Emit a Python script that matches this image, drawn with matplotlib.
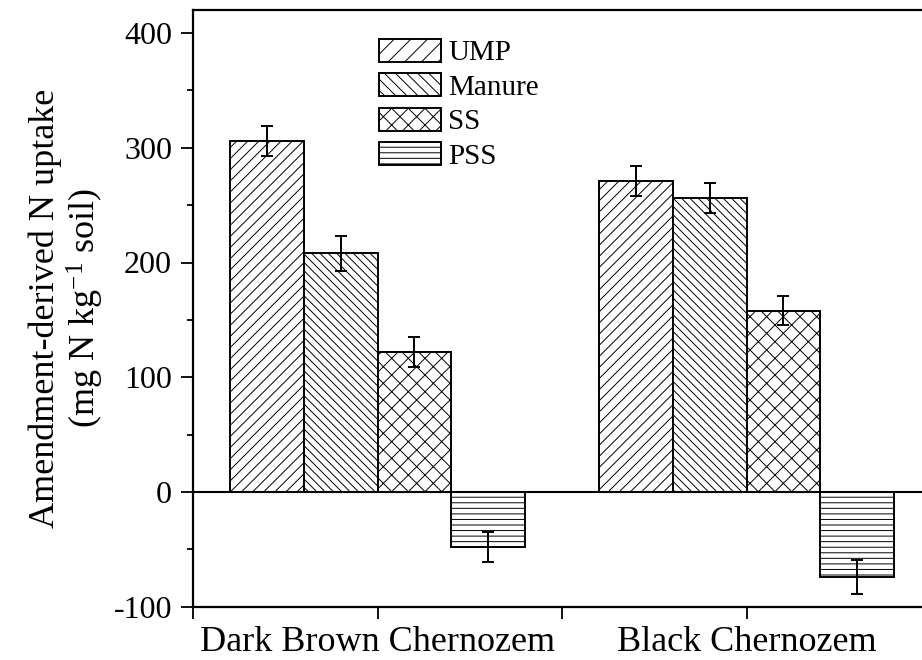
import matplotlib
matplotlib.use("Agg")
import matplotlib.pyplot as plt
from matplotlib.patches import Patch
from matplotlib.ticker import MultipleLocator
import numpy as np

plt.rcParams['font.family'] = ['Liberation Serif', 'DejaVu Serif']
plt.rcParams['mathtext.fontset'] = 'custom'
plt.rcParams['mathtext.rm'] = 'Liberation Serif'
plt.rcParams['mathtext.it'] = 'Liberation Serif:italic'
plt.rcParams['axes.unicode_minus'] = False
plt.rcParams['hatch.linewidth'] = 0.7
plt.rcParams['hatch.color'] = 'black'

soils = ['Dark Brown Chernozem', 'Black Chernozem']
treatments = ['UMP', 'Manure', 'SS', 'PSS']
values = {
    'UMP':    [306, 271],
    'Manure': [208, 256],
    'SS':     [122, 158],
    'PSS':    [-48, -74],
}
errors = {
    'UMP':    [13, 13],
    'Manure': [15, 13],
    'SS':     [13, 12.5],
    'PSS':    [13, 14.5],
}
bar_hatches = ['///', '\\\\\\\\', 'xx', '---']
legend_hatches = ['//', '\\\\\\', 'xx', '---']

fig = plt.figure(figsize=(9.22, 6.6), dpi=100)
ax = fig.add_axes([193/922, (660-606.75)/660, 738/922, (606.75-10.05)/660])

x = np.arange(1, len(soils) + 1)
width = 0.2
offsets = np.array([-1.5, -0.5, 0.5, 1.5]) * width
for t, off, h in zip(treatments, offsets, bar_hatches):
    ax.bar(x + off, values[t], width, yerr=errors[t], color='white',
           edgecolor='black', linewidth=1.4, hatch=h,
           error_kw=dict(ecolor='black', elinewidth=1.4, capsize=4.5, capthick=1.4))

ax.axhline(0, color='black', lw=1.5, zorder=3)

ax.set_xlim(0.5, 2.5)
ax.set_ylim(-100, 420)
ax.set_xticks([0.5, 1, 1.5, 2, 2.5])
ax.set_xticklabels(['', soils[0], '', soils[1], ''], fontsize=26)
ax.yaxis.set_major_locator(MultipleLocator(100))
ax.yaxis.set_minor_locator(MultipleLocator(50))
ax.tick_params(axis='y', which='major', direction='out', length=8.6, width=1.3, labelsize=23, pad=6.5)
ax.tick_params(axis='y', which='minor', direction='out', length=4.3, width=1.3)
ax.tick_params(axis='x', which='major', direction='out', length=8.6, width=1.3, pad=5)
for s in ax.spines.values():
    s.set_linewidth(1.6)

ax.set_ylabel('Amendment-derived N uptake\n(mg N kg$^{\\mathregular{-1}}$ soil)', fontsize=26,
              linespacing=1.1)
ax.yaxis.set_label_coords(-(193-106)/738, 0.5)

handles = [Patch(facecolor='white', edgecolor='black', linewidth=1.4, hatch=h)
           for h in legend_hatches]
ax.legend(handles, treatments, loc='upper left', bbox_to_anchor=(379/922, 1-39/660),
          bbox_transform=fig.transFigure, frameon=False, fontsize=21,
          handlelength=2.12, handleheight=0.82, handletextpad=0.26,
          labelspacing=0.24, borderpad=0, borderaxespad=0)

fig.savefig('out.png', dpi=100)
